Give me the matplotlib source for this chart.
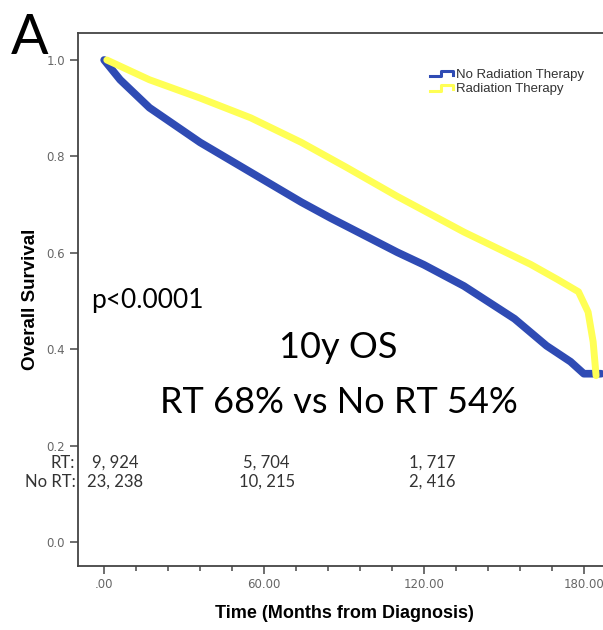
import numpy as np
import matplotlib.pyplot as plt
from matplotlib.legend_handler import HandlerBase
from matplotlib.lines import Line2D

# Kaplan-Meier curves (months, survival)
months_no_rt = [0, 6, 17, 36, 55, 74, 85, 91, 110, 120, 135, 154, 166, 175, 180, 186.5]
surv_no_rt = [1.0, 0.959, 0.901, 0.829, 0.767, 0.705, 0.672, 0.655, 0.601, 0.575,
              0.531, 0.463, 0.407, 0.374, 0.349, 0.349]
months_rt = [1, 17, 36, 55, 74, 91, 110, 135, 160, 170, 178, 181.6, 183.5, 184.6]
surv_rt = [1.0, 0.959, 0.921, 0.880, 0.829, 0.777, 0.717, 0.643, 0.576,
           0.545, 0.519, 0.477, 0.415, 0.345]

# patients at risk
risk_times = [4, 61, 123]
risk_rt = ["9, 924", "5, 704", "1, 717"]
risk_no_rt = ["23, 238", "10, 215", "2, 416"]

x_ticks = [0, 60, 120, 180]
x_tick_labels = [".00", "60.00", "120.00", "180.00"]
y_ticks = [0.0, 0.2, 0.4, 0.6, 0.8, 1.0]

BLUE = "#2f4bb4"
YELLOW = "#ffff55"
GREY = "#555555"


class StepHandler(HandlerBase):
    # legend handle shaped like a little step, like SPSS does
    def create_artists(self, legend, orig_handle, xdescent, ydescent,
                       width, height, fontsize, trans):
        xs = np.array([0, 0.45, 0.45, 0.9, 0.9]) * width - xdescent
        ys = np.array([0.2, 0.2, 0.8, 0.8, 0.35]) * height - ydescent
        line = Line2D(xs, ys, color=orig_handle.get_color(), lw=2.2,
                      transform=trans)
        return [line]


fig = plt.figure(figsize=(6.03, 6.3), dpi=100)
ax = fig.add_axes([0.1294, 0.1016, 0.883, 0.846])

ax.plot(months_no_rt, surv_no_rt, color=BLUE, lw=5.5, solid_capstyle="round",
        label="No Radiation Therapy", zorder=3)
ax.plot(months_rt, surv_rt, color=YELLOW, lw=5, solid_capstyle="round",
        label="Radiation Therapy", zorder=4)

ax.set_xlim(-9.8, 190)
ax.set_ylim(-0.05, 1.056)

ax.set_xticks(x_ticks)
ax.set_xticklabels(x_tick_labels)
ax.set_xticks([m for m in range(12, 190, 12) if m % 60], minor=True)
ax.set_yticks(y_ticks)
ax.set_yticklabels([f"{v:.1f}" for v in y_ticks])
ax.tick_params(axis="both", which="major", length=6, width=1.2, color=GREY,
               labelsize=8.5, labelcolor="#666666")
ax.tick_params(axis="x", which="minor", length=3.5, width=1.2, color=GREY)
ax.tick_params(axis="x", pad=3)

for side in ["left", "bottom", "top"]:
    ax.spines[side].set_color("#444444")
    ax.spines[side].set_linewidth(1.3)
ax.spines["right"].set_visible(False)

ax.set_xlabel("Time (Months from Diagnosis)", fontsize=13, fontweight="bold",
              family="Liberation Sans", labelpad=10)
ax.set_ylabel("Overall Survival", fontsize=13.5, fontweight="bold",
              family="Liberation Sans", labelpad=5)

leg = ax.legend(handler_map={Line2D: StepHandler()}, loc="upper left",
                bbox_to_anchor=(430 / 603, 1 - 69 / 630),
                bbox_transform=fig.transFigure, frameon=False,
                prop={"family": "Liberation Sans", "size": 9.5},
                handlelength=1.9, handletextpad=0.1, labelspacing=0.15,
                borderpad=0, borderaxespad=0)
for t in leg.get_texts():
    t.set_color("#333333")

# number at risk rows
ax.text(-10.8, 0.164, "RT:", ha="right", va="center", fontsize=12,
        family="Lato", color="#333333", clip_on=False)
ax.text(-10.8, 0.125, "No RT:", ha="right", va="center", fontsize=12,
        family="Lato", color="#333333", clip_on=False)
for t, a, b in zip(risk_times, risk_rt, risk_no_rt):
    ax.text(t, 0.164, a, ha="center", va="center", fontsize=12, family="Lato",
            color="#333333")
    ax.text(t, 0.125, b, ha="center", va="center", fontsize=12, family="Lato",
            color="#333333")

# annotations
ax.text(-5, 0.50, "p<0.0001", fontsize=19, family="Lato", va="center")
ax.text(88, 0.403, "10y OS", fontsize=26, family="Lato", ha="center", va="center")
ax.text(88, 0.29, "RT 68% vs No RT 54%", fontsize=26, family="Lato",
        ha="center", va="center")
fig.text(0.018, 1 - 54 / 630, "A", fontsize=40, family="Lato", va="baseline")

fig.savefig("out.png", dpi=100)
